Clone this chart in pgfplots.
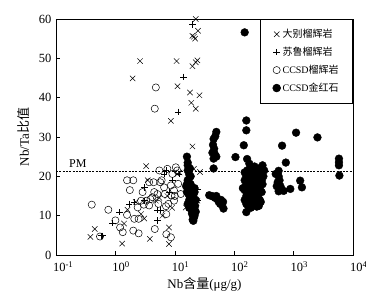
\documentclass[border=0pt]{standalone}
\usepackage{pgfplots}
\pgfplotsset{compat=1.18}
\usepackage{fontspec}
\setmainfont{Liberation Serif}
\newfontfamily\cjk{Noto Sans CJK SC}
\begin{document}
\begin{tikzpicture}
\begin{axis}[name=ax, scale only axis, width=297pt, height=236pt,
  xmode=log, xmin=0.1, xmax=10000, ymin=0, ymax=60,
  xtick={0.1,1,10,100,1000,10000},
  xticklabels={10\textsuperscript{-1},10\textsuperscript{0},10\textsuperscript{1},10\textsuperscript{2},10\textsuperscript{3},10\textsuperscript{4}},
  ytick={0,10,20,30,40,50,60},
  yticklabels={0,10,20,30,40,50,60},
  minor tick num=0, xminorticks=false,
  tick pos=left, tick align=inside, major tick length=4pt,
  axis line style={line width=0.8pt}, every tick/.style={line width=0.6pt,black},
  tick label style={font=\fontsize{12.5}{14}\selectfont},
  xticklabel style={anchor=north west, xshift=-6.5pt, yshift=-3pt},
  yticklabel style={xshift=-1pt},
  xlabel={Nb{\cjk 含量}(μg/g)}, ylabel={Nb/Ta{\cjk 比值}},
  every axis x label/.style={at={(axis description cs:0.5,-0.123)},anchor=center,font=\fontsize{13}{15}\selectfont},
  every axis y label/.style={at={(axis description cs:-0.108,0.5)},rotate=90,anchor=center,font=\fontsize{13}{15}\selectfont},
  legend style={at={(1,1)},anchor=north east,draw=black,line width=0.6pt,
    font=\fontsize{10}{11}\selectfont, row sep=4pt, inner xsep=12pt, inner ysep=8pt},
  legend cell align=left,
  clip=false]
\addplot[only marks, mark=x, mark size=3.8pt, line width=0.5pt] coordinates {
(22.5,60)(24.6,57)(19.8,55.7)(22,55)(21,55.5)(2.6,49.3)(10.7,49.3)(24,49.5)(22.5,49)(19.8,48)
(1.95,44.9)(11.1,42.9)(18,41.3)(26,40.6)(19,38.7)(22.5,37.2)(8.6,34.1)(19.8,27.6)(3.3,22.6)(26.6,21.1)
(11,20.6)(0.38,4.6)(0.45,6.6)(1.3,2.9)(3.8,4.1)(8,2.8)(8,7)(3.06,9.3)(3.5,19)(4.8,13.8)
(6.2,10)(1.6,11.5)(2.7,10.4)(15.3,12.1)(16.3,19)(21,21.9)(24,13.8)(1.4,8)(2.2,13.5)(5.5,14.5)
(9,12)(12,21)(7.5,15)};
\addlegendentry{{\cjk 大别榴辉岩}}
\addplot[only marks, mark=+, mark size=3.2pt, line width=0.5pt] coordinates {
(0.61,4.9)(1.17,10.9)(0.9,8.1)(2.08,13.4)(3.1,13.8)(5.1,11.5)(5.8,11.5)(6.6,20.6)(3.1,17.2)(14,45.3)
(11.4,36.4)(20,58.6)(8.2,16)(9.1,19)(24,16.7)(24,13.8)(11.8,20.6)(7.1,21.5)(5.1,8.8)(1.7,13)(0.57,4.9)};
\addlegendentry{{\cjk 苏鲁榴辉岩}}
\addplot[only marks, mark=o, mark size=3.6pt, line width=0.5pt] coordinates {
(0.40,12.8)(0.55,4.7)(0.76,11.5)(1.0,8.8)(1.33,5.8)(1.57,10.2)(1.57,19)(2.0,19)(1.75,16.5)(2.0,6.2)
(2.08,9.2)(2.46,9.2)(2.46,5.5)(2.37,12.1)(2.7,13.8)(2.87,16)(3.3,13.8)(3.7,12.6)(4.2,14.7)(4.6,6.6)
(4.4,18.5)(5.1,15.5)(5.5,21.5)(5.7,18.5)(6.6,17.2)(6.8,15.5)(7.1,12.4)(7.2,10.4)(7.2,5.3)(8.6,4.5)
(8.8,15.1)(9.7,13.8)(9.7,16.4)(10.4,22.3)(11.4,18.1)(12.6,15.5)(9.1,20.6)(4.8,42.6)(4.6,37.2)(7.5,21.9)
(8.6,17.7)(3.7,18.5)(4.5,16)(1.2,7)(3.0,12.8)(6.0,19)(7.8,13)(5.3,13)(3.9,14.2)(10,15)(11,21.5)};
\addlegendentry{CCSD{\cjk 榴辉岩}}
\addplot[only marks, mark=*, mark size=3.9pt, mark options={fill=black}] coordinates {
(16,25)(16.5,22.8)(16.5,21.5)(17.5,20.5)(16.5,19)(16,18)(16.5,17)(17.5,16.5)(16,16)(18.5,16)
(17,15.5)(18,15)(19,14.5)(17.5,14)(18.5,13.5)(19.5,13)(18.5,12.5)(20,12)(19,11.5)(20.5,11)
(19.5,10.5)(20.5,10)(21,9.5)(20,9)(20.5,8.7)(21.5,10)(21.5,11.5)(22,12.5)(20.5,13.5)(20.5,15)
(19.5,17)(18.5,18)(17.5,19.5)(21.5,16)(22.5,14)(22.5,11)(21.5,17)(18,22)(16.5,23.5)(15.5,17.5)
(18.5,20)(19.5,15.5)(17.5,12)(16.5,13)
(50,31.3)(48,30.2)(45,29.5)(44,28)(46,27)(43,26)(47,25.7)(50,25)(45,24.5)(45,22)
(38,15.2)(42,15)(45,14.8)(50,15)(52,14.2)(55,13.5)(58,13)(62,12.8)(65,13.5)(60,14)(48,14.5)(66,11.8)
(105,24.9)(160,34.2)(160,31.7)(145,27.9)(165,24.4)(180,23.2)(160,10.9)(150,56.6)
(150,21)(160,20)(170,19)(180,18)(190,17)(200,16)(210,15)(220,14)(230,13)(240,12.3)
(160,18)(175,16.5)(185,15.5)(195,14.5)(205,13.5)(150,16.5)(160,15)(170,14)(150,19)(165,21.5)
(190,21)(210,20)(230,19)(250,18)(270,17)(290,16)(300,18)(310,20)(280,21)(260,22)
(240,21)(220,22.5)(200,22)(250,15)(270,14)(230,16)(220,18)(200,19)(180,20.5)(260,19.5)
(290,19)(320,21.5)(300,22.8)(170,12.5)(190,12)(200,13)(280,13.5)(260,12.5)(240,17)(210,17.5)
(160,13)(140,17)(150,14)
(640,27.8)(1100,31.1)(740,23.5)(560,21.4)(560,20)(580,19)(540,18.5)(600,17.5)(520,17.5)(620,16.8)
(680,16.3)(880,16.8)(2520,29.9)(1290,18.9)(1380,17.2)(500,20.6)(560,16.2)
(5800,24.5)(5800,23.6)(5800,22.8)(5900,20.2)};
\addlegendentry{CCSD{\cjk 金红石}}
\addplot[black, line width=0.9pt, dash pattern=on 2pt off 1.3pt, forget plot] coordinates {(0.1,21.3) (10000,21.3)};
\node[anchor=base west, inner sep=0pt, font=\fontsize{12}{14}\selectfont] at (axis cs:0.165,22.3) {PM};
\end{axis}
\pgfresetboundingbox
\path[use as bounding box] ([xshift=-56pt,yshift=-47pt]ax.south west) rectangle ([xshift=13pt,yshift=19pt]ax.north east);
\end{tikzpicture}
\end{document}
